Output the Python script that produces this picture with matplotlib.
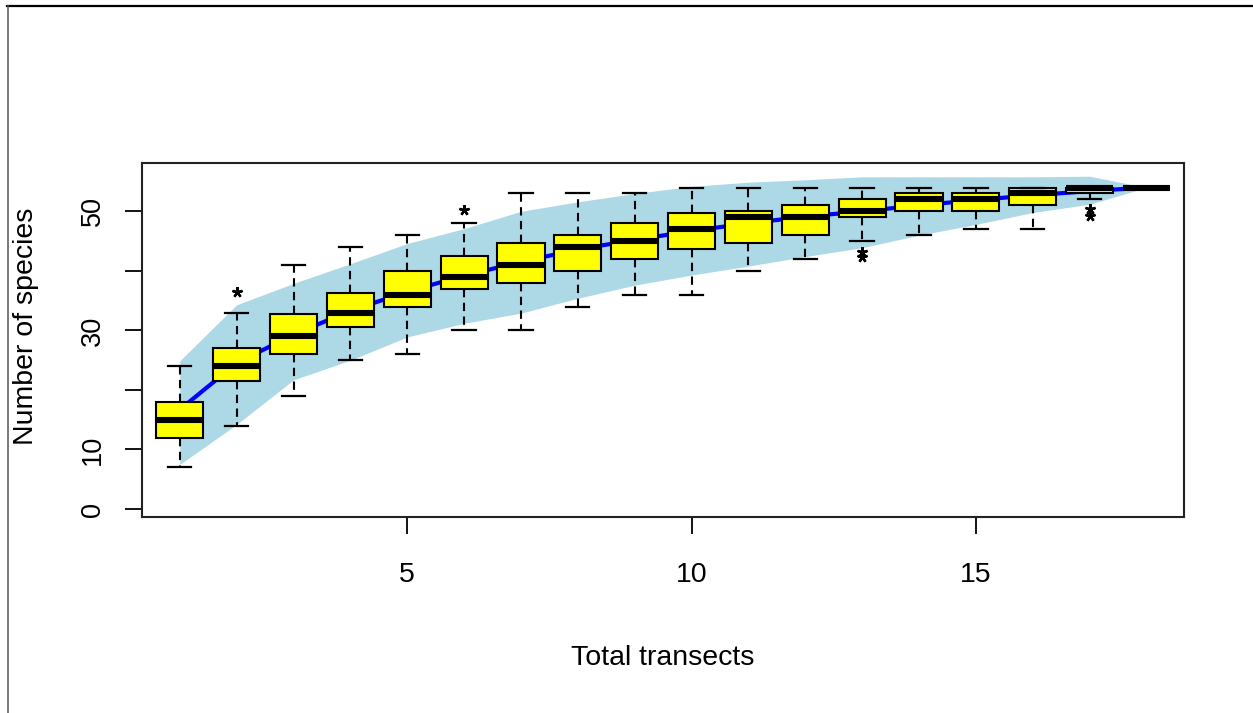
import numpy as np
import matplotlib
matplotlib.use("Agg")
import matplotlib.pyplot as plt
from matplotlib.lines import Line2D
from matplotlib import font_manager

plt.rcParams['font.family'] = ['Liberation Sans', 'DejaVu Sans']

# ---- data ----
transects = list(range(1, 19))
whislo = [7, 14, 19, 25, 26, 30, 30, 34, 36, 36, 40, 42, 45, 46, 47, 47, 52, 54]
q1     = [12, 21.5, 26, 30.5, 34, 37, 38, 40, 42, 43.75, 44.75, 46, 49, 50, 50, 51, 53, 54]
med    = [15, 24, 29, 33, 36, 39, 41, 44, 45, 47, 49, 49, 50, 52, 52, 53, 54, 54]
q3     = [18, 27, 32.75, 36.25, 40, 42.5, 44.75, 46, 48, 49.75, 50, 51, 52, 53, 53, 54, 54, 54]
whishi = [24, 33, 41, 44, 46, 48, 53, 53, 53, 54, 54, 54, 54, 54, 54, 54, 54, 54]
fliers = [[], [36.4], [], [], [], [50.3], [], [], [], [], [], [],
          [43.2, 42.4], [], [], [], [50.4, 49.3], []]
richness = [16.7, 24.5, 29.3, 33.3, 36.5, 39.2, 41.5, 43.6, 45.2, 46.7,
            48.0, 49.1, 50.0, 51.0, 51.9, 52.7, 53.4, 54.0]
band_upper = [24.9, 34.3, 37.9, 41.2, 44.6, 47.1, 50.0, 51.6, 53.0, 54.2,
              54.9, 55.3, 55.8, 55.8, 55.8, 55.8, 55.9, 54.0]
band_lower = [7.5, 14.2, 21.7, 25.0, 28.9, 31.2, 32.9, 35.4, 37.6, 39.3,
              40.8, 42.4, 43.9, 46.0, 47.8, 49.8, 51.2, 54.0]
yticks = [0, 10, 20, 30, 40, 50]
yticklabels = ['0', '10', '', '30', '', '50']
xticks = [5, 10, 15]

# the reference text along x is slightly condensed: use a narrow face if present
installed = {f.name for f in font_manager.fontManager.ttflist}
if 'Liberation Sans Narrow' in installed:
    xfont = ['Liberation Sans Narrow', 'Liberation Sans', 'DejaVu Sans']
    xtick_size, xlab_size = 23, 23.5
else:
    xfont = ['Liberation Sans', 'DejaVu Sans']
    xtick_size, xlab_size = 20.5, 20.5

W, H = 1253, 713
fig = plt.figure(figsize=(W / 100, H / 100), dpi=100)
fig.patch.set_facecolor('white')

left, right, top, bottom = 141.7, 1184, 163.3, 516.7
ax = fig.add_axes([left / W, 1 - bottom / H, (right - left) / W, (bottom - top) / H])

ax.fill_between(transects, band_lower, band_upper, color='lightblue', lw=0, zorder=1)
ax.plot(transects, richness, color='blue', lw=3, zorder=2, solid_capstyle='butt')

stats = []
for i in range(len(transects)):
    stats.append(dict(med=med[i], q1=q1[i], q3=q3[i], whislo=whislo[i],
                      whishi=whishi[i], fliers=fliers[i]))

ax.bxp(stats, positions=transects, widths=0.83, capwidths=0.41,
       patch_artist=True, manage_ticks=False, zorder=3,
       boxprops=dict(facecolor='yellow', edgecolor='black', linewidth=1.5),
       medianprops=dict(color='black', linewidth=4.4, solid_capstyle='butt'),
       whiskerprops=dict(color='black', linewidth=1.5, linestyle=(0, (4, 2.6))),
       capprops=dict(color='black', linewidth=1.6),
       flierprops=dict(marker=(5, 2, 0), markersize=7.5, markeredgewidth=1.7,
                       markeredgecolor='black', markerfacecolor='black',
                       linestyle='none'))

ax.set_xlim(0.33, 18.66)
ax.set_ylim(-1.29, 58.07)

ax.set_xticks(xticks)
ax.set_xticklabels([str(t) for t in xticks], fontsize=xtick_size, family=xfont)
ax.set_yticks(yticks)
ax.set_yticklabels(yticklabels, fontsize=19.5, rotation=90, va='center')
ax.tick_params(axis='x', direction='out', length=12.2, width=1.3, pad=20.5, colors='black')
ax.tick_params(axis='y', direction='out', length=12.2, width=1.3, pad=13.6, colors='black')

for sp in ax.spines.values():
    sp.set_linewidth(1.5)
    sp.set_color('#222222')

ax.set_xlabel('Total transects', fontsize=xlab_size, family=xfont)
ax.xaxis.set_label_coords(0.5, (bottom - 665) / (bottom - top))
ax.xaxis.label.set_va('baseline')
ax.set_ylabel('Number of species', fontsize=20.5)
ax.yaxis.set_label_coords((39.2 - left) / (right - left), (bottom - 326) / (bottom - top))

# screenshot frame lines (top and left)
fig.add_artist(Line2D([7 / W, 1.0], [1 - 5.8 / H, 1 - 5.8 / H],
                      transform=fig.transFigure, color='black', lw=1.6))
fig.add_artist(Line2D([7.5 / W, 7.5 / W], [1 - 5.8 / H, 0.0],
                      transform=fig.transFigure, color='#555555', lw=1.1))

fig.savefig('out.png', dpi=100, facecolor='white')
